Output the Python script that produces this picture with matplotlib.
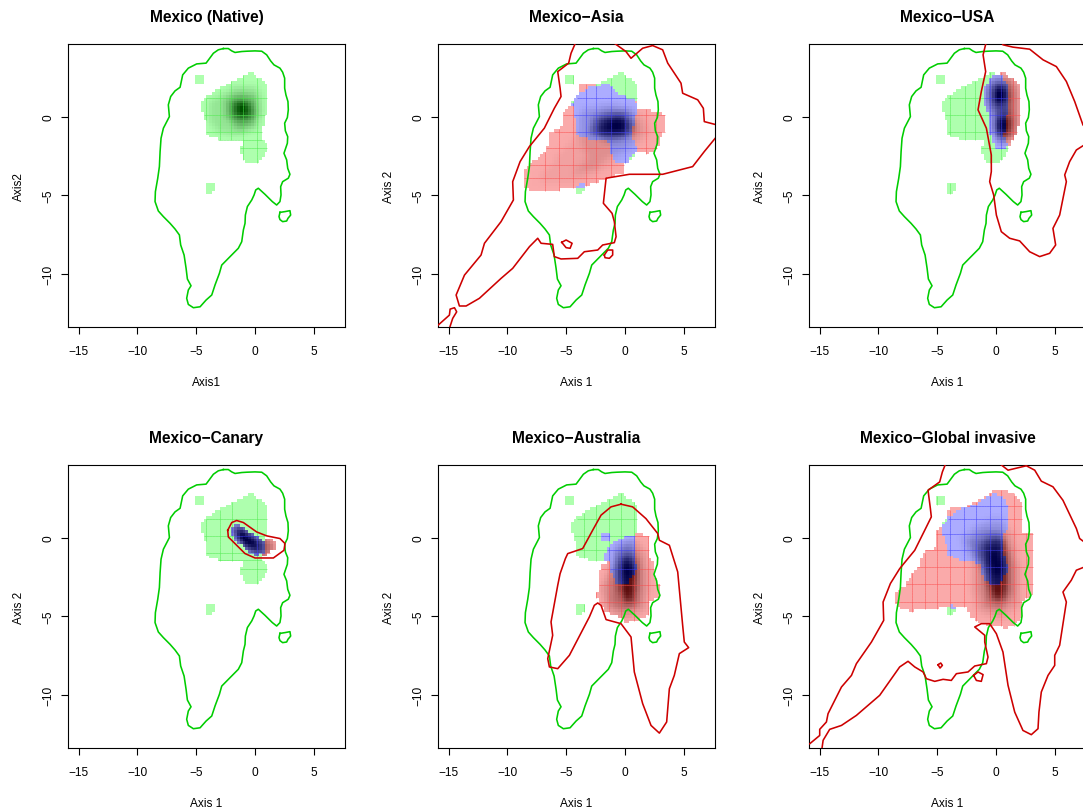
import numpy as np
import matplotlib
matplotlib.use("Agg")
import matplotlib.pyplot as plt
from matplotlib.path import Path
from matplotlib.collections import LineCollection

plt.rcParams['font.family'] = ['Liberation Sans', 'DejaVu Sans']

titles = ["Mexico (Native)", "Mexico\u2212Asia", "Mexico\u2212USA",
          "Mexico\u2212Canary", "Mexico\u2212Australia", "Mexico\u2212Global invasive"]
xlabels = ["Axis1", "Axis 1", "Axis 1", "Axis 1", "Axis 1", "Axis 1"]
ylabels = ["Axis2", "Axis 2", "Axis 2", "Axis 2", "Axis 2", "Axis 2"]
xticks = [-15, -10, -5, 0, 5]
yticks = [-10, -5, 0]
xlim = (-15.9, 7.65)
ylim = (-13.4, 4.65)

# native envelope, same on all panels
green_main = [(-2.69,4.36),(-2.27,4.36),(-1.98,4.21),(-1.70,4.11),(-1.13,4.17),(-0.71,4.19),(0,4.21),(0.57,4.19),(0.99,3.96),(1.33,3.57),
              (1.61,3.32),(2.12,3.11),(2.35,2.85),(2.52,2.47),(2.52,1.83),(2.63,1.40),(2.80,0.98),(2.83,0.45),(2.75,-0.04),(2.52,-0.40),
              (2.58,-0.89),(2.78,-1.26),(2.75,-1.68),(2.46,-2.32),(2.69,-2.74),(2.78,-3.28),(2.97,-3.66),(2.83,-3.91),(2.35,-4.13),(2.18,-4.45),
              (2.21,-4.98),(2.12,-5.40),(1.84,-5.62),(1.47,-5.40),(0.85,-4.94),(0.28,-4.55),(0.06,-4.66),(-0.08,-4.98),(-0.28,-5.30),(-0.65,-5.72),
              (-0.82,-6.26),(-0.85,-6.79),(-0.99,-7.21),(-1.13,-7.96),(-1.42,-8.38),(-2.12,-8.91),(-2.83,-9.45),(-3.03,-9.98),(-3.40,-10.72),
              (-3.68,-11.36),(-4.16,-11.68),(-4.67,-12.11),(-5.24,-12.17),(-5.67,-11.96),(-5.81,-11.57),(-5.67,-11.04),(-5.44,-10.77),(-5.75,-10.34),
              (-5.86,-9.66),(-6.03,-8.81),(-6.32,-8.17),(-6.43,-7.53),(-6.80,-7.15),(-7.22,-6.79),(-7.79,-6.36),(-8.22,-6.0),(-8.50,-5.40),(-8.47,-4.77),
              (-8.27,-3.91),(-8.13,-3.17),(-8.07,-2.21),(-7.99,-1.36),(-7.79,-0.72),(-7.28,0.02),(-7.37,0.77),(-7.17,1.30),(-6.80,1.66),(-6.37,1.89),
              (-6.15,2.68),(-5.67,3.11),(-4.96,3.38),(-4.16,3.43),(-3.54,4.06),(-3.12,4.28),(-2.69,4.36)]
green_island = [(2.12,-6.09),(2.55,-6.04),(2.97,-5.98),(3.03,-6.26),(2.80,-6.47),(2.69,-6.64),(2.35,-6.68),(2.12,-6.55),(2.04,-6.36),(2.12,-6.09)]

# occupied cells of the native niche
native_mask = [[(-0.37,2.87),(-0.08,2.68),(0.57,2.36),(1.05,1.94),(1.13,0.66),(0.71,-0.62),(0.57,-1.47),(1.13,-1.89),
                (0.99,-2.21),(0.34,-2.96),(-0.85,-2.96),(-1.27,-2.32),(-1.27,-2.0),(-0.93,-1.53),(-2.97,-1.47),(-4.11,-1.11),
                (-4.31,0.23),(-4.59,0.34),(-4.59,0.87),(-4.19,1.30),(-2.97,1.83),(-1.84,2.26),(-0.85,2.64)],
               [(-5.10,2.43),(-4.90,2.64),(-4.33,2.64),(-4.33,2.17),(-5.10,2.17)],
               [(-4.19,-4.40),(-3.91,-4.17),(-3.40,-4.17),(-3.40,-4.70),(-3.63,-4.91),(-3.91,-4.91),(-4.19,-4.77)]]
native_levels = [(0.12, [(-3.97,0.98),(-2.69,1.51),(-1.56,2.04),(0.14,1.94),(0.71,0.98),(0.28,-0.72),(-1.56,-1.15),(-3.26,-0.94),(-3.97,-0.09)]),
                 (0.35, [(-2.41,1.19),(-1.27,1.51),(0,1.30),(0.28,0.34),(-0.14,-0.62),(-1.56,-0.72),(-2.41,-0.09)]),
                 (0.6, [(-1.98,0.87),(-1.13,1.19),(-0.37,0.87),(-0.14,0.23),(-0.71,-0.30),(-1.56,-0.19),(-1.98,0.23)]),
                 (0.85, [(-1.56,0.77),(-0.99,0.94),(-0.57,0.55),(-0.71,0.09),(-1.27,0.09),(-1.56,0.34)]),
                 (1.0, [(-1.27,0.66),(-0.93,0.77),(-0.76,0.45),(-0.99,0.23),(-1.27,0.30)])]

# Asia
asia_lines = [[(-4.16,4.81),(-4.59,4.06),(-4.79,3.43),(-5.72,2.89),(-5.52,1.83),(-5.44,1.30),(-6.01,0.55),(-6.86,-0.72),
               (-8.13,-1.89),(-8.92,-2.85),(-9.55,-4.13),(-9.49,-5.30),(-10.54,-6.68),(-11.95,-8.06),(-12.24,-8.81),
               (-13.65,-10.09),(-14.36,-11.36),(-14.08,-12.06),(-13.51,-12.06),(-12.38,-11.57),(-10.54,-10.30),(-9.55,-9.66),
               (-8.13,-8.28),(-7.42,-7.74),(-7.14,-8.06),(-6.15,-8.13),(-6.01,-8.91),(-5.44,-9.06),(-4.02,-9.02),(-3.46,-8.60),
               (-2.32,-8.49),(-1.90,-8.17),(-0.91,-8.02),(-0.76,-7.64),(-0.91,-6.68),(-1.10,-6.15),(-1.84,-5.51),(-1.61,-3.91),
               (0.37,-3.66),(3.20,-3.66),(5.75,-3.17),(6.74,-2.21),(8.02,-1.04)],
              [(8.02,-0.55),(6.74,-0.30),(6.66,0.55),(6.18,1.09),(4.90,1.51),(4.76,2.15),(3.63,3.43),(3.20,4.28),(2.35,4.55),
               (1.50,4.38),(0.51,3.74),(0.08,4.17),(-0.91,4.70)],
              [(-16.2,-13.49),(-14.93,-12.64),(-14.87,-12.26),(-14.50,-12.17),(-14.31,-12.43),(-14.65,-12.85),(-14.93,-13.49)],
              [(-5.38,-8.0),(-5.01,-7.85),(-4.50,-8.06),(-4.67,-8.38),(-5.01,-8.34),(-5.38,-8.0)],
              [(-1.76,-8.81),(-1.47,-8.49),(-1.05,-8.49),(-1.05,-8.81),(-1.33,-9.02),(-1.70,-8.98),(-1.76,-8.81)]]
asia_red = [[(-8.61,-3.32),(-7.85,-2.89),(-7.0,-2.32),(-6.49,-1.79),(-6.49,-0.98),(-5.44,-0.62),(-5.30,0.23),(-4.45,0.87),
             (-3.88,1.62),(-3.82,2.15),(-2.75,2.15),(-1.90,1.83),(0.93,0.98),(1.08,0.55),(3.06,0.30),(3.43,-0.09),(3.43,-0.62),
             (3.06,-1.26),(2.92,-1.79),(2.07,-2.32),(0.93,-2.21),(-0.06,-2.96),(-0.20,-3.60),(-2.32,-4.13),(-3.31,-4.34),
             (-4.16,-4.55),(-6.71,-4.72),(-7.85,-4.72),(-8.56,-4.45)]]
asia_blue = [[(-4.39,1.19),(-4.02,1.40),(-3.03,1.87),(-2.04,2.04),(-1.33,2.15),(-0.34,1.36),(0.79,1.23),(1.08,0.66),(0.71,-0.51),
              (0.59,-1.36),(0.99,-1.89),(0.93,-2.21),(0.23,-2.89),(-0.82,-2.89),(-1.19,-2.32),(-1.33,-1.79),(-1.61,-1.47),
              (-3.03,-1.47),(-4.02,-1.15),(-4.16,-0.30),(-4.45,0.34),(-4.50,0.87)],
             [(-4.11,-4.40),(-3.74,-4.17),(-3.40,-4.17),(-3.40,-4.55),(-4.02,-4.55)]]
asia_levels = [(0.05, [(-7.5,-4.0),(-6.2,-2.9),(-4.3,-1.4),(-3.3,0.5),(-0.8,1.0),(1.5,0.3),(2.4,-1.0),(1,-2.0),(-0.8,-3.0),(-3,-3.9),(-5.8,-4.3)]),
               (0.15, [(-4.4,-3.6),(-3.2,-2.7),(-4.0,-0.9),(-3.7,0.4),(-1.5,0.7),(0.7,0.4),(1.7,-0.8),(0.5,-1.9),(-1.2,-2.5),(-2.6,-3.5)]),
               (0.5, [(-3.0,-1.0),(-2.6,0.0),(-1.2,0.4),(0.2,0.3),(0.9,-0.6),(0.4,-1.3),(-1.4,-1.5)]),
               (0.8, [(-2.5,-0.8),(-1.7,-0.1),(-0.5,0.1),(0.3,-0.4),(0.2,-1.0),(-0.9,-1.2),(-2.0,-1.2)]),
               (0.95, [(-1.9,-0.7),(-1.0,-0.2),(-0.2,-0.2),(0.1,-0.6),(-0.4,-0.9),(-1.3,-1.0)]),
               (1.0, [(-1.0,-0.6),(-0.5,-0.35),(-0.1,-0.5),(-0.4,-0.8)])]

# USA
usa_lines = [[(-0.82,4.81),(-1.10,3.96),(-0.88,2.89),(-1.25,1.62),(-1.53,0.45),(-0.82,-0.72),(-0.40,-2.43),(-0.40,-3.49),(-0.54,-4.13),
              (-0.20,-4.98),(0.03,-6.26),(0.45,-7.32),(1.16,-7.74),(2.01,-7.91),(2.86,-8.60),(3.71,-8.91),(4.56,-8.70),(5.07,-8.17),
              (4.84,-7.11),(5.41,-6.26),(5.98,-4.13),(5.84,-3.70),(6.26,-2.85),(6.83,-2.11),(7.96,-1.57)],
             [(0.45,4.8),(0.59,4.60),(1.44,4.45),(2.86,4.32),(4.0,3.64),(5.13,3.21),(5.98,2.26),(6.69,0.98),(7.39,-0.51),(7.96,-1.0)]]
usa_red = [[(0.17,2.64),(0.37,2.83),(0.65,2.83),(1.02,2.51),(1.67,2.36),(2.01,1.94),(2.01,0.55),(1.95,-0.30),(1.67,-1.15),(1.16,-1.79),(0.31,-1.79),(0.17,0.77)]]
usa_blue = [[(-1.05,1.83),(-0.25,2.64),(0.45,2.64),(1.02,2.04),(1.16,0.55),(0.88,0.02),(0.65,-1.15),(1.10,-1.89),(-0.11,-2.04),(-0.54,-0.94),(-0.59,0.23),(-1.05,0.87)]]
usa_levels = [(0.3, [(-0.9,1.8),(-0.2,2.5),(1.2,2.5),(1.8,1.7),(1.8,0.5),(1.8,-1.0),(1.1,-1.6),(0.2,-1.7),(-0.3,-0.9),(-0.4,0.3),(-0.9,0.9)]),
              (0.5, [(-0.5,1.6),(0,2.2),(0.8,2.1),(1.3,1.4),(1.1,0.6),(1.5,-0.3),(1.2,-1.2),(0.4,-1.4),(0,-0.7),(0.1,0.5),(-0.4,0.9)]),
              (0.8, [(-0.2,1.6),(0.2,2.0),(0.8,1.7),(0.8,1.0),(0.2,0.7),(-0.2,1.0)]),
              (0.8, [(0.1,-0.3),(0.6,0.2),(1.1,-0.3),(1.1,-1.0),(0.5,-1.1),(0.1,-0.8)]),
              (0.95, [(0.0,1.5),(0.3,1.85),(0.65,1.55),(0.55,1.1),(0.15,1.05)]),
              (0.95, [(0.3,-0.3),(0.7,-0.15),(0.85,-0.6),(0.6,-0.9),(0.3,-0.7)]),
              (1.0, [(0.15,1.5),(0.35,1.7),(0.5,1.45),(0.3,1.25)])]

# Canary
canary_lines = [[(-2.32,0.49),(-1.98,0.98),(-1.56,1.11),(-0.99,0.98),(0.14,0.38),(0.99,0.13),(2.12,-0.04),(2.55,-0.36),(2.46,-0.79),
                 (1.56,-1.28),(0,-1.28),(-0.85,-1.0),(-1.84,-0.26),(-2.27,0.06),(-2.32,0.49)]]
canary_red = [[(0.57,-0.36),(0.93,-0.04),(1.42,-0.04),(1.78,-0.26),(1.78,-0.74),(1.13,-0.89),(1.05,-1.11),(0.57,-1.11)]]
canary_blue = [[(-2.04,0.60),(-1.70,0.85),(-1.05,0.70),(-0.28,0.28),(0.57,-0.04),(0.93,-0.51),(0.71,-0.89),(0,-1.15),(-0.28,-1.0),(-1.42,-0.36),(-1.98,0.13)]]
canary_levels = [(0.35, [(-2.1,0.7),(-1.6,0.9),(-0.2,0.3),(1.0,-0.1),(1.6,-0.3),(1.6,-0.8),(1.0,-1.1),(0,-1.2),(-1.5,-0.4)]),
                 (0.7, [(-1.8,0.5),(-1.3,0.7),(-0.3,0.1),(0.5,-0.3),(0.5,-0.9),(-0.3,-0.8),(-1.3,-0.2)]),
                 (0.95, [(-1.5,0.4),(-1.1,0.4),(-0.4,-0.1),(0.2,-0.5),(-0.1,-0.7),(-0.8,-0.3),(-1.4,0.1)]),
                 (1.0, [(-1.2,0.25),(-0.9,0.25),(-0.7,0),(-1,-0.05)])]

# Australia
australia_lines = [[(-0.34,2.15),(0.65,1.98),(1.78,1.23),(2.78,0.28),(2.92,-0.15),(3.77,-0.47),(4.48,-2.17),(4.90,-5.57),(5.04,-6.64),
                    (5.41,-7.0),(4.62,-7.38),(4.19,-8.77),(3.77,-9.62),(3.54,-11.74),(2.92,-12.45),(2.21,-11.96),(1.50,-10.57),
                    (0.79,-8.55),(0.51,-6.32),(-0.34,-5.47),(-1.61,-5.21),(-2.04,-4.30),(-2.32,-4.15),(-2.61,-4.30),(-3.03,-5.04),
                    (-4.73,-7.49),(-5.72,-8.34),(-6.43,-8.23),(-6.57,-7.70),(-6.15,-6.21),(-6.29,-5.36),(-5.72,-3.02),(-5.52,-2.28),
                    (-5.07,-1.32),(-4.87,-1.0),(-3.60,-0.68),(-2.75,0.49),(-2.04,1.45),(-1.19,1.98),(-0.34,2.15)]]
australia_red = [[(0.79,0.34),(1.36,0.34),(1.93,0.06),(2.01,-1.32),(2.41,-1.49),(2.41,-2.38),(2.97,-3.13),(2.97,-3.77),(2.07,-4.09),(1.84,-5.04),
                  (-0.06,-5.47),(-0.25,-5.15),(-1.61,-4.72),(-2.18,-4.09),(-2.52,-3.77),(-2.24,-3.34),(-2.24,-2.30),(-1.95,-1.70),(-1.33,-1.53),(0.08,-1.32)]]
australia_blue = [[(-1.42,-0.64),(-0.91,-0.26),(-0.34,0.02),(0.79,0.21),(0.79,-0.68),(0.99,-1.96),(0.51,-2.60),(0.23,-2.91),(-0.76,-2.91),
                   (-1.19,-2.28),(-1.19,-1.64),(-1.76,-1.42),(-1.70,-0.94)],
                  [(-2.01,0.28),(-1.30,0.28),(-1.30,-0.21),(-2.01,-0.21)]]
australia_levels = [(0.15, [(-0.9,-0.5),(0.7,0),(1.8,-1.0),(2.0,-3.0),(1.7,-4.6),(-0.1,-5.2),(-1.6,-4.6),(-2.0,-3.2),(-1.1,-1.5)]),
                    (0.35, [(-0.7,-0.9),(0.4,-0.3),(1.2,-1.3),(1.3,-3.2),(1.4,-4.2),(0,-4.7),(-1.2,-4.2),(-1.2,-2.6)]),
                    (0.65, [(-0.4,-1.2),(0.4,-0.9),(1.0,-1.8),(1.0,-3.3),(0.8,-4.1),(0,-4.2),(-0.5,-3.5),(-0.6,-2.4)]),
                    (0.9, [(-0.3,-1.5),(0.4,-1.3),(0.8,-2.1),(0.6,-3.3),(0.6,-3.9),(0.1,-3.95),(-0.15,-3.2),(-0.3,-2.4)]),
                    (1.0, [(-0.05,-2.9),(0.3,-2.8),(0.5,-3.4),(0.4,-3.8),(0.1,-3.8)]),
                    (1.0, [(-0.1,-1.7),(0.4,-1.6),(0.6,-2.2),(0.2,-2.6),(-0.2,-2.3)])]

# Global invasive
global_lines = [[(-4.22,4.85),(-4.56,4.21),(-4.79,3.57),(-5.78,3.04),(-5.58,1.87),(-5.50,1.34),(-6.06,0.49),(-6.91,-0.79),(-8.19,-1.96),
                 (-8.98,-2.91),(-9.60,-4.09),(-9.55,-5.26),(-10.59,-6.64),(-11.87,-8.02),(-12.29,-8.77),(-13.14,-9.51),(-14.28,-11.21),
                 (-14.42,-11.74),(-14.99,-12.21),(-14.99,-12.60),(-15.84,-13.13),(-16.69,-13.34)],
                [(-14.84,-13.66),(-14.70,-12.91),(-14.14,-12.21),(-13.14,-11.96),(-11.87,-11.32),(-9.89,-10.04),(-8.19,-8.23),(-7.48,-7.87),
                 (-6.91,-8.23),(-6.20,-8.55),(-5.92,-8.98),(-5.21,-9.15),(-4.50,-9.02),(-3.80,-9.09),(-3.37,-8.66),(-2.38,-8.55),(-1.81,-8.17),
                 (-0.82,-8.02),(-0.68,-7.60),(-0.96,-6.64),(-0.96,-6.21),(-1.81,-5.68),(-1.25,-5.47),(-0.54,-5.47),(0.03,-6.11),(0.59,-7.28),
                 (1.02,-9.40),(1.59,-11.11),(2.29,-12.28),(3.0,-12.55),(3.57,-12.17),(3.65,-11.11),(3.85,-9.83),(4.42,-8.77),(4.99,-8.13),
                 (4.99,-7.49),(5.41,-6.85),(5.98,-4.09),(5.69,-3.45),(6.40,-2.70),(6.83,-2.06),(8.24,-1.64)],
                [(0.31,4.74),(1.02,4.32),(2.58,4.60),(3.29,4.32),(3.85,3.62),(4.84,3.26),(5.69,2.40),(6.83,0.60),(7.11,-0.04),(8.24,-0.68)],
                [(-4.93,-8.09),(-4.70,-7.98),(-4.56,-8.13),(-4.76,-8.30),(-4.93,-8.09)],
                [(-1.90,-8.77),(-1.53,-8.55),(-1.10,-8.72),(-1.25,-9.15),(-1.67,-9.09),(-1.90,-8.77)]]
global_red = [[(-8.61,-3.55),(-7.76,-3.02),(-7.0,-2.21),(-6.54,-1.74),(-6.20,-0.89),(-5.21,-0.68),(-5.01,0.49),(-4.22,1.02),(-3.94,1.98),(-2.80,1.91),
               (-0.25,2.94),(1.16,2.94),(2.24,2.30),(2.35,0.38),(3.14,0.28),(3.14,-3.66),(2.35,-3.98),(2.15,-5.15),(1.02,-5.79),(-1.39,-5.47),
               (-2.24,-4.94),(-2.38,-4.62),(-2.66,-4.40),(-6.20,-4.51),(-7.14,-4.68),(-8.13,-4.51),(-8.56,-4.09)]]
global_blue = [[(-4.58,0.81),(-4.02,1.34),(-2.80,1.91),(-1.67,2.19),(-0.25,2.83),(0.59,2.62),(1.10,1.87),(1.02,0.60),(0.45,-0.04),(0.65,-1.11),
                (1.10,-1.96),(0.59,-2.60),(0.03,-2.98),(-0.82,-2.81),(-1.30,-2.28),(-1.16,-1.64),(-3.09,-1.43),(-4.08,-1.11),(-4.31,-0.04),(-4.65,0.28)],
               [(-4.09,-4.40),(-3.71,-4.19),(-3.43,-4.40),(-3.65,-4.62)]]
global_levels = [(0.12, [(-3.0,0.0),(-1.2,1.0),(0.3,1.3),(1.5,0.2),(2.0,-2.0),(1.9,-4.3),(0.6,-5.2),(-1.5,-4.7),(-2.0,-3.4),(-2.0,-1.7)]),
                 (0.3, [(-2.4,-0.3),(-1.2,0.5),(0.3,0.6),(1.0,-0.3),(1.5,-1.8),(1.4,-3.8),(0.4,-4.7),(-1.0,-4.3),(-1.4,-3.0),(-1.3,-1.7)]),
                 (0.6, [(-1.6,-0.5),(-0.6,0.1),(0.5,0.1),(1.0,-0.9),(1.1,-2.4),(1.0,-3.6),(0.3,-4.2),(-0.5,-3.8),(-0.7,-3.0),(-0.9,-2.2),(-1.4,-1.5)]),
                 (0.85, [(-1.0,-0.6),(0,-0.1),(0.6,-0.6),(0.8,-2),(0.7,-3.2),(0.5,-3.9),(0,-3.9),(-0.4,-3.3),(-0.6,-2.6),(-0.7,-1.7)]),
                 (1.0, [(-0.5,-0.8),(0.3,-0.6),(0.5,-1.6),(0.45,-2.6),(-0.1,-2.6),(-0.5,-1.9)]),
                 (1.0, [(-0.2,-3.1),(0.3,-3.0),(0.4,-3.6),(0,-3.8)])]

# thin grid lines that show through the filled cells
native_vgrid = [-4.19,-2.97,-2.0,-1.05,0.14]
native_hgrid = [1.23,0.13,-0.94,-1.47,-2.0]
asia_vgrid = [-6.8,-5.58,-4.39,-3.31,-2.46,-1.19,0.0,1.78,2.63]
asia_hgrid = [1.23,0.13,-0.94,-2.0,-3.06,-3.91]
usa_vgrid = [-3.94,-2.66,-1.76,-0.54,0.45,1.44]
usa_hgrid = [1.23,0.13,-0.94,-2.0]
canary_vgrid = [-4.19,-2.97,-1.98,0.14]
canary_hgrid = [1.23,0.13,-0.94,-1.43,-1.96]
australia_vgrid = [-3.46,-2.46,-1.33,-0.34,0.79,1.93]
australia_hgrid = [1.23,0.13,-0.79,-1.96,-2.98,-4.09]
global_vgrid = [-7.14,-6.06,-4.99,-3.94,-2.75,-1.67,-0.54,0.45,1.50,2.58]
global_hgrid = [2.02,1.23,0.28,-0.79,-1.85,-2.91,-4.09]

# cells of the density grid
nx, ny = 100, 100
xe = np.linspace(xlim[0], xlim[1], nx+1)
ye = np.linspace(ylim[0], ylim[1], ny+1)
xc = (xe[:-1]+xe[1:])/2
yc = (ye[:-1]+ye[1:])/2
xx, yy = np.meshgrid(xc, yc)
pts = np.column_stack([xx.ravel(), yy.ravel()])

light = {1: (174,255,174), 2: (250,170,170), 3: (172,172,255)}
dark = {1: (0,80,0), 2: (80,0,0), 3: (0,0,70)}
gridcol = {1: (0.30,0.92,0.30), 2: (0.98,0.30,0.30), 3: (0.25,0.25,0.98)}

def mask_of(polys):
    m = np.zeros(xx.shape, dtype=bool)
    for p in polys:
        m |= Path(p).contains_points(pts).reshape(xx.shape)
    return m

def density_of(levels):
    d = np.zeros(xx.shape)
    for lev, p in levels:
        inside = Path(p).contains_points(pts).reshape(xx.shape)
        d[inside] = np.maximum(d[inside], lev)
    # soften the steps between neighbouring outlines, two passes
    for n in range(2):
        s = np.zeros(xx.shape)
        for i in (-1, 0, 1):
            for j in (-1, 0, 1):
                s += np.roll(np.roll(d, i, axis=0), j, axis=1)
        d = s/9
    return d/d.max()

def draw_panel(ax, red, blue, levels, vgrid, hgrid, lines, native=False):
    cat = np.zeros(xx.shape, dtype=int)
    cat[mask_of(native_mask)] = 1
    cat[mask_of(red)] = 2
    cat[mask_of(blue)] = 3
    d = density_of(levels)
    if not native:
        d[cat == 1] = 0
    rgba = np.ones(xx.shape + (4,))
    rgba[..., 3] = 0
    for c in (1, 2, 3):
        m = cat == c
        for k in range(3):
            rgba[..., k][m] = (light[c][k]*(1-d[m]) + dark[c][k]*d[m])/255
        rgba[..., 3][m] = 1
    ax.imshow(rgba, origin='lower', extent=(xlim[0], xlim[1], ylim[0], ylim[1]),
              aspect='auto', interpolation='nearest', zorder=1)

    segs, cols = [], []
    for gx in vgrid:
        j = np.searchsorted(xe, gx)-1
        for i in range(ny):
            if cat[i, j] > 0:
                segs.append([(gx, ye[i]), (gx, ye[i+1])])
                cols.append(gridcol[cat[i, j]])
    for gy in hgrid:
        i = np.searchsorted(ye, gy)-1
        for j in range(nx):
            if cat[i, j] > 0:
                segs.append([(xe[j], gy), (xe[j+1], gy)])
                cols.append(gridcol[cat[i, j]])
    ax.add_collection(LineCollection(segs, colors=cols, linewidths=0.55, alpha=0.65, zorder=2))

    for line in (green_main, green_island):
        a = np.array(line)
        ax.plot(a[:,0], a[:,1], color='#00CD00', lw=1.15, solid_joinstyle='round', zorder=3)
    for line in lines:
        a = np.array(line)
        ax.plot(a[:,0], a[:,1], color='#CD0000', lw=1.15, solid_joinstyle='round', zorder=4)

panels = [([], [], native_levels, native_vgrid, native_hgrid, [], True),
          (asia_red, asia_blue, asia_levels, asia_vgrid, asia_hgrid, asia_lines, False),
          (usa_red, usa_blue, usa_levels, usa_vgrid, usa_hgrid, usa_lines, False),
          (canary_red, canary_blue, canary_levels, canary_vgrid, canary_hgrid, canary_lines, False),
          (australia_red, australia_blue, australia_levels, australia_vgrid, australia_hgrid, australia_lines, False),
          (global_red, global_blue, global_levels, global_vgrid, global_hgrid, global_lines, False)]

W, H = 1083, 812
fig = plt.figure(figsize=(W/100, H/100), dpi=100)
lefts = [68, 438, 809]
tops = [45, 466]
for n in range(6):
    row, col = n//3, n%3
    ax = fig.add_axes([lefts[col]/W, 1-(tops[row]+283)/H, 277/W, 283/H])
    red, blue, levels, vg, hg, lines, native = panels[n]
    draw_panel(ax, red, blue, levels, vg, hg, lines, native)
    ax.set_xlim(xlim)
    ax.set_ylim(ylim)
    ax.set_xticks(xticks)
    ax.set_yticks(yticks)
    ax.tick_params(axis='x', length=5.2, width=0.8, labelsize=8.6, pad=7.5)
    ax.tick_params(axis='y', length=5.2, width=0.8, labelsize=8.6, pad=4.8)
    ax.set_xticklabels([str(v).replace('-', '\u2212') for v in xticks])
    ax.set_yticklabels([str(v).replace('-', '\u2212') for v in yticks], rotation=90, va='center')
    for s in ax.spines.values():
        s.set_linewidth(0.8)
    ax.set_xlabel(xlabels[n], fontsize=8.6, labelpad=14)
    ax.set_ylabel(ylabels[n], fontsize=8.6, labelpad=12)
    ax.set_title(titles[n], fontsize=11.2, fontweight='bold', pad=16.5)

plt.savefig("out.png", dpi=100)
